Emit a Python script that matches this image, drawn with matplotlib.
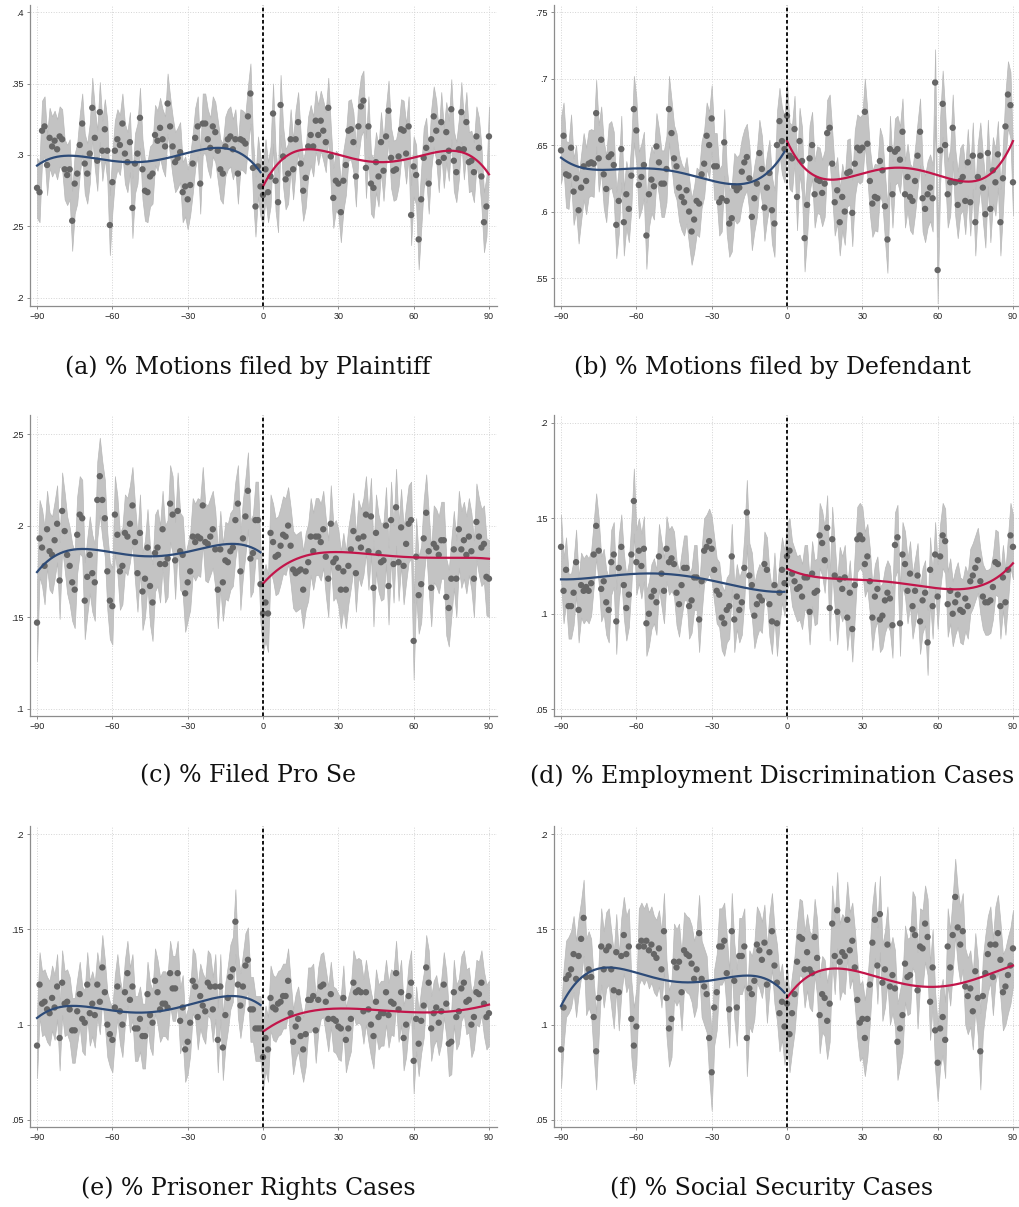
import numpy as np
import matplotlib
matplotlib.use("Agg")
import matplotlib.pyplot as plt

# days relative to the cutoff; pre = -90..-1, post = 0..90
days_pre = np.arange(-90, 0)
days_post = np.arange(0, 91)

# (a) % Motions filed by Plaintiff
a_pre = [.277, .274, .317, .320, .293, .312, .306, .310, .304, .313,
         .311, .290, .286, .290, .254, .280, .287, .307, .322, .294,
         .287, .301, .333, .312, .296, .330, .303, .318, .303, .251,
         .281, .303, .311, .307, .322, .301, .295, .309, .263, .294,
         .301, .326, .290, .275, .274, .285, .287, .314, .310, .319,
         .311, .306, .336, .320, .306, .295, .298, .302, .274, .278,
         .269, .279, .294, .312, .320, .280, .322, .322, .311, .305,
         .320, .316, .303, .290, .287, .306, .311, .313, .304, .311,
         .287, .311, .310, .308, .327, .343, .291, .264, .292, .278]
a_post = [.272, .290, .274, .285, .329, .282, .267, .335, .299, .283,
          .287, .311, .290, .311, .323, .294, .275, .284, .306, .314,
          .306, .324, .314, .324, .317, .309, .333, .299, .270, .282,
          .280, .260, .282, .293, .317, .318, .309, .285, .320, .334,
          .338, .291, .320, .280, .277, .295, .285, .309, .289, .313,
          .331, .298, .289, .290, .299, .318, .317, .301, .320, .258,
          .292, .286, .241, .269, .298, .305, .280, .311, .327, .317,
          .295, .323, .298, .316, .303, .332, .296, .288, .304, .330,
          .304, .323, .295, .296, .288, .313, .305, .285, .253, .264,
          .313]
a_fit_pre = [(-90, .2926), (-78, .2995), (-50, .2950), (-18, .3050), (-1, .2880)]
a_fit_post = [(0, .2780), (18, .3040), (48, .2950), (75, .3030), (90, .2865)]
a_ci = .021

# (b) % Motions filed by Defendant
b_pre = [.646, .657, .628, .627, .648, .615, .625, .601, .618, .634,
         .623, .636, .637, .636, .674, .640, .654, .628, .617, .641,
         .643, .635, .590, .608, .647, .592, .613, .602, .627, .677,
         .661, .620, .626, .635, .582, .613, .624, .619, .649, .637,
         .621, .621, .632, .677, .659, .640, .634, .618, .611, .607,
         .616, .600, .585, .594, .608, .606, .628, .636, .657, .650,
         .670, .634, .634, .607, .610, .652, .608, .591, .595, .619,
         .616, .618, .630, .637, .641, .625, .596, .610, .621, .644,
         .632, .603, .618, .629, .601, .591, .650, .668, .653, .647]
b_post = [.672, .642, .640, .662, .611, .653, .638, .580, .605, .640,
          .650, .613, .624, .623, .614, .621, .659, .663, .636, .607,
          .616, .592, .611, .600, .629, .630, .599, .636, .648, .646,
          .648, .675, .651, .623, .606, .611, .610, .638, .631, .604,
          .579, .647, .613, .645, .647, .639, .660, .613, .626, .611,
          .608, .623, .642, .660, .610, .602, .613, .618, .610, .697,
          .556, .646, .681, .650, .613, .622, .663, .622, .605, .623,
          .626, .608, .637, .607, .642, .592, .626, .642, .618, .598,
          .644, .602, .631, .622, .643, .592, .625, .664, .688, .680,
          .622]
b_fit_pre = [(-90, .6405), (-70, .6315), (-48, .6312), (-20, .6205), (-1, .6450)]
b_fit_post = [(0, .6530), (17, .6240), (44, .6330), (72, .6225), (90, .6530)]
b_ci = .025

# (c) % Filed Pro Se
c_pre = [.147, .193, .188, .178, .198, .186, .184, .192, .201, .170,
         .208, .197, .184, .178, .169, .165, .195, .206, .204, .159,
         .172, .184, .174, .169, .214, .227, .214, .204, .175, .159,
         .156, .206, .195, .175, .178, .196, .194, .201, .211, .191,
         .174, .196, .164, .171, .188, .167, .158, .185, .188, .179,
         .198, .179, .182, .212, .206, .181, .208, .186, .184, .163,
         .169, .175, .194, .191, .194, .193, .211, .191, .190, .194,
         .198, .187, .165, .187, .169, .181, .180, .186, .188, .203,
         .212, .175, .193, .205, .219, .182, .185, .203, .203, .168]
c_post = [.152, .158, .152, .196, .191, .183, .184, .189, .195, .194,
          .200, .189, .176, .174, .175, .176, .165, .175, .180, .194,
          .186, .194, .194, .191, .198, .183, .171, .201, .180, .182,
          .177, .165, .175, .165, .178, .187, .197, .174, .193, .188,
          .194, .206, .186, .205, .166, .196, .185, .180, .181, .200,
          .167, .203, .179, .210, .180, .199, .178, .190, .201, .203,
          .137, .183, .162, .168, .193, .207, .186, .166, .190, .188,
          .184, .192, .192, .161, .155, .171, .187, .171, .198, .187,
          .192, .184, .194, .186, .171, .202, .194, .188, .190, .172,
          .171]
c_fit_pre = [(-90, .1746), (-73, .1872), (-45, .1832), (-13, .1900), (-1, .1854)]
c_fit_post = [(0, .1683), (12, .1810), (27, .1855), (55, .1830), (90, .1819)]
c_ci = .021

# (d) % Employment Discrimination Cases
d_pre = [.135, .112, .123, .104, .104, .111, .127, .102, .115, .112,
         .114, .112, .116, .131, .146, .133, .113, .117, .106, .102,
         .127, .131, .096, .124, .135, .115, .103, .110, .131, .159,
         .127, .133, .125, .134, .095, .100, .109, .112, .106, .130,
         .121, .112, .134, .127, .129, .126, .111, .105, .115, .124,
         .124, .104, .107, .119, .119, .097, .117, .133, .135, .138,
         .134, .123, .112, .110, .098, .095, .102, .104, .130, .097,
         .109, .102, .106, .124, .153, .120, .115, .099, .105, .109,
         .107, .126, .123, .105, .096, .115, .095, .111, .123, .116]
d_post = [.130, .133, .121, .117, .113, .114, .109, .119, .119, .101,
          .121, .111, .112, .141, .137, .128, .145, .103, .139, .120,
          .101, .118, .113, .119, .098, .111, .092, .115, .139, .141,
          .139, .126, .130, .117, .098, .109, .113, .097, .099, .107,
          .111, .108, .094, .136, .140, .095, .131, .126, .112, .121,
          .104, .112, .120, .096, .107, .111, .085, .123, .104, .131,
          .109, .130, .141, .138, .105, .112, .100, .106, .110, .102,
          .101, .108, .104, .117, .120, .124, .128, .117, .109, .106,
          .106, .107, .114, .127, .126, .104, .119, .106, .123, .141,
          .135]
d_fit_pre = [(-90, .1180), (-65, .1205), (-45, .1205), (-20, .1145), (-1, .1115)]
d_fit_post = [(0, .1236), (25, .1180), (45, .1160), (68, .1128), (90, .1264)]
d_ci = .017

# (e) % Prisoner Rights Cases
e_pre = [.089, .121, .111, .112, .108, .106, .114, .109, .120, .093,
         .122, .111, .112, .108, .097, .097, .107, .116, .103, .101,
         .121, .106, .111, .105, .121, .112, .130, .117, .100, .095,
         .092, .109, .120, .107, .100, .117, .127, .113, .120, .098,
         .098, .103, .094, .094, .116, .105, .101, .123, .117, .108,
         .111, .111, .109, .127, .119, .119, .127, .102, .109, .087,
         .091, .101, .123, .120, .104, .115, .110, .107, .122, .120,
         .108, .120, .092, .120, .088, .105, .114, .125, .129, .154,
         .121, .110, .120, .131, .134, .108, .108, .098, .098, .098]
e_post = [.083, .093, .087, .114, .109, .108, .111, .112, .115, .115,
          .123, .106, .091, .099, .103, .094, .087, .095, .113, .113,
          .115, .097, .113, .120, .121, .112, .103, .116, .103, .102,
          .099, .098, .114, .092, .098, .103, .122, .117, .118, .117,
          .107, .117, .108, .100, .094, .112, .104, .106, .106, .117,
          .105, .112, .111, .127, .108, .117, .093, .100, .115, .122,
          .081, .103, .090, .102, .110, .130, .122, .098, .106, .109,
          .101, .107, .121, .111, .090, .091, .117, .104, .107, .119,
          .122, .112, .113, .100, .104, .117, .116, .122, .111, .104,
          .106]
e_fit_pre = [(-90, .1035), (-77, .1098), (-50, .1063), (-12, .1150), (-1, .1103)]
e_fit_post = [(0, .0963), (20, .1073), (45, .1077), (60, .1065), (90, .1105)]
e_ci = .017

# (f) % Social Security Cases
f_pre = [.087, .109, .124, .126, .129, .137, .124, .136, .145, .156,
         .125, .129, .125, .104, .086, .114, .141, .129, .139, .141,
         .129, .118, .138, .117, .136, .147, .137, .141, .103, .089,
         .099, .141, .144, .141, .144, .139, .142, .137, .135, .140,
         .129, .149, .114, .098, .103, .133, .130, .133, .117, .139,
         .137, .136, .132, .124, .129, .148, .124, .120, .116, .093,
         .075, .109, .117, .141, .141, .144, .127, .108, .149, .123,
         .109, .136, .136, .141, .093, .119, .116, .123, .142, .139,
         .134, .143, .121, .138, .149, .131, .122, .106, .112, .099]
f_post = [.111, .095, .106, .116, .133, .146, .145, .129, .138, .129,
          .127, .146, .135, .105, .116, .114, .102, .111, .153, .136,
          .160, .133, .138, .136, .155, .139, .144, .130, .113, .101,
          .103, .093, .103, .121, .143, .155, .131, .158, .122, .129,
          .142, .120, .126, .119, .091, .098, .105, .132, .125, .126,
          .150, .147, .118, .141, .140, .153, .146, .112, .130, .097,
          .080, .098, .104, .092, .141, .130, .147, .167, .151, .142,
          .149, .120, .115, .119, .107, .128, .114, .086, .115, .127,
          .137, .142, .125, .142, .148, .134, .117, .120, .126, .131,
          .140]
f_fit_pre = [(-90, .1098), (-75, .1294), (-45, .1226), (-17, .1257), (-1, .1168)]
f_fit_post = [(0, .1140), (18, .1294), (40, .1235), (58, .1198), (90, .1310)]
f_ci = .020

captions = ["(a) % Motions filed by Plaintiff", "(b) % Motions filed by Defendant",
            "(c) % Filed Pro Se", "(d) % Employment Discrimination Cases",
            "(e) % Prisoner Rights Cases", "(f) % Social Security Cases"]
yticks = [[.2, .25, .3, .35, .4], [.55, .6, .65, .7, .75],
          [.1, .15, .2, .25], [.05, .1, .15, .2],
          [.05, .1, .15, .2], [.05, .1, .15, .2]]
ylims = [(.1944, .4049), (.529, .7553), (.096, .2604),
         (.0465, .204), (.0463, .2042), (.0463, .2042)]
xticks = [-90, -60, -30, 0, 30, 60, 90]

panels = [(a_pre, a_post, a_fit_pre, a_fit_post, a_ci),
          (b_pre, b_post, b_fit_pre, b_fit_post, b_ci),
          (c_pre, c_post, c_fit_pre, c_fit_post, c_ci),
          (d_pre, d_post, d_fit_pre, d_fit_post, d_ci),
          (e_pre, e_post, e_fit_pre, e_fit_post, e_ci),
          (f_pre, f_post, f_fit_pre, f_fit_post, f_ci)]

W, H = 1020, 1207
fig = plt.figure(figsize=(W / 100, H / 100), dpi=100)
col_x = [30, 554]
row_top = [5, 415, 826]
ax_w, ax_h = 467, 301
cap_y = [367, 776, 1188]
cap_x = [248, 772]

BLUE = '#2d4b78'
RED = '#c2154a'


def fit_curve(knots, lo, hi):
    kx = [k[0] for k in knots]
    ky = [k[1] for k in knots]
    coef = np.polyfit(kx, ky, 4)
    xs = np.linspace(lo, hi, 200)
    return xs, np.polyval(coef, xs)


for i, (pre, post, fpre, fpost, ci) in enumerate(panels):
    r, c = divmod(i, 2)
    left = col_x[c] / W
    bottom = 1 - (row_top[r] + ax_h) / H
    ax = fig.add_axes([left, bottom, ax_w / W, ax_h / H])

    days = np.concatenate([days_pre, days_post])
    vals = np.array(pre + post)
    ax.fill_between(days, vals - ci, vals + ci, color='#c3c3c3',
                    edgecolor='#b8b8b8', linewidth=0.5, zorder=1)
    ax.scatter(days, vals, s=21, color='#666666', edgecolors='none', zorder=3)

    xs, ys = fit_curve(fpre, -90, -1)
    ax.plot(xs, ys, color=BLUE, lw=1.6, zorder=4)
    xs, ys = fit_curve(fpost, 0, 90)
    ax.plot(xs, ys, color=RED, lw=1.6, zorder=4)

    ax.axvline(0, color='black', lw=1.3, linestyle=(0, (2, 1.4)), zorder=5)

    ax.set_xlim(-92.8, 93.2)
    ax.set_ylim(*ylims[i])
    ax.set_xticks(xticks)
    ax.set_yticks(yticks[i])
    ax.set_yticklabels([("%g" % v).lstrip('0') for v in yticks[i]])
    ax.grid(True, color='#d4d4d4', linestyle=':', linewidth=0.7, zorder=0)
    ax.set_axisbelow(True)
    for s in ['top', 'right']:
        ax.spines[s].set_visible(False)
    for s in ['left', 'bottom']:
        ax.spines[s].set_color('#8c8c8c')
        ax.spines[s].set_linewidth(0.9)
    ax.tick_params(length=2.5, width=0.7, color='#8c8c8c', pad=2,
                   labelsize=6.5, labelcolor='#222222')
    for lab in ax.get_xticklabels() + ax.get_yticklabels():
        lab.set_family('Liberation Sans')

    fig.text(cap_x[c] / W, 1 - cap_y[r] / H, captions[i], ha='center', va='center',
             fontsize=17, family='DejaVu Serif', color='#111111')

fig.savefig('out.png', dpi=100)
